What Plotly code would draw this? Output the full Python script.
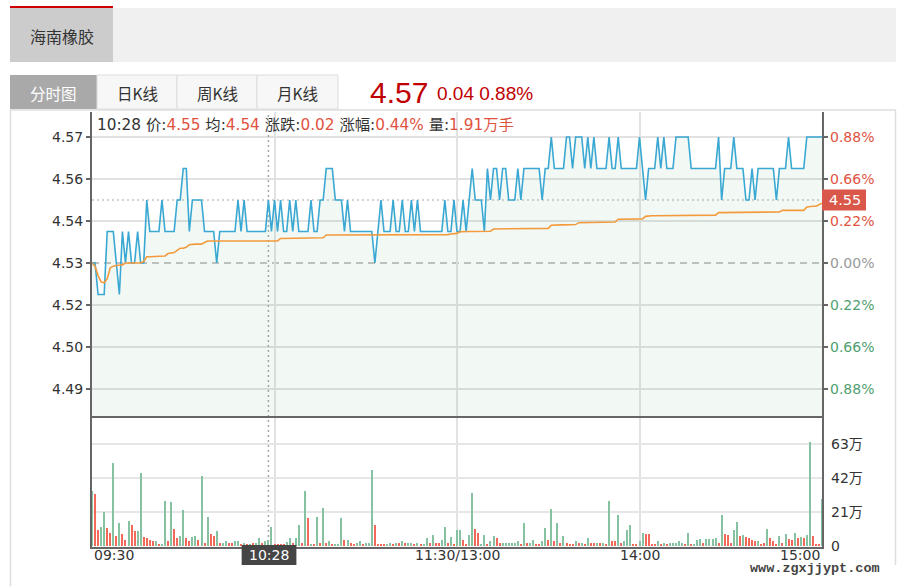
import plotly.graph_objects as go

W, H = 907, 586

# ---------------- data ----------------
minutes = list(range(241))  # 09:30 .. 15:00, lunch break collapsed

price = [
    4.53, 4.53, 4.52, 4.52, 4.52, 4.54, 4.54, 4.54, 4.53, 4.52,
    4.54, 4.53, 4.54, 4.53, 4.53, 4.54, 4.53, 4.53, 4.55, 4.54,
    4.54, 4.54, 4.54, 4.55, 4.54, 4.54, 4.54, 4.54, 4.55, 4.55,
    4.56, 4.56, 4.54, 4.55, 4.55, 4.55, 4.55, 4.54, 4.54, 4.54,
    4.54, 4.53, 4.54, 4.54, 4.54, 4.54, 4.54, 4.54, 4.55, 4.54,
    4.55, 4.54, 4.54, 4.54, 4.54, 4.54, 4.54, 4.54, 4.55, 4.54,
    4.55, 4.54, 4.55, 4.54, 4.54, 4.55, 4.54, 4.55, 4.54, 4.54,
    4.54, 4.54, 4.55, 4.54, 4.54, 4.55, 4.55, 4.56, 4.56, 4.56,
    4.55, 4.55, 4.55, 4.54, 4.55, 4.54, 4.54, 4.54, 4.54, 4.54,
    4.54, 4.54, 4.54, 4.53, 4.54, 4.55, 4.54, 4.54, 4.54, 4.55,
    4.54, 4.54, 4.55, 4.54, 4.54, 4.55, 4.54, 4.55, 4.54, 4.54,
    4.54, 4.54, 4.54, 4.54, 4.54, 4.54, 4.55, 4.54, 4.54, 4.55,
    4.54, 4.54, 4.55, 4.54, 4.55, 4.56, 4.55, 4.55, 4.55, 4.54,
    4.56, 4.55, 4.56, 4.56, 4.55, 4.56, 4.56, 4.55, 4.55, 4.55,
    4.56, 4.55, 4.56, 4.56, 4.56, 4.56, 4.56, 4.56, 4.55, 4.56,
    4.56, 4.57, 4.56, 4.56, 4.56, 4.56, 4.57, 4.57, 4.56, 4.57,
    4.57, 4.57, 4.56, 4.57, 4.56, 4.57, 4.56, 4.56, 4.56, 4.56,
    4.57, 4.56, 4.56, 4.57, 4.56, 4.56, 4.56, 4.56, 4.56, 4.56,
    4.57, 4.56, 4.55, 4.56, 4.56, 4.56, 4.57, 4.56, 4.57, 4.56,
    4.56, 4.56, 4.57, 4.57, 4.57, 4.57, 4.57, 4.56, 4.56, 4.56,
    4.56, 4.56, 4.56, 4.56, 4.56, 4.56, 4.57, 4.55, 4.56, 4.56,
    4.56, 4.57, 4.56, 4.56, 4.56, 4.55, 4.55, 4.56, 4.55, 4.56,
    4.56, 4.56, 4.56, 4.56, 4.56, 4.55, 4.56, 4.56, 4.56, 4.57,
    4.56, 4.56, 4.56, 4.56, 4.56, 4.57, 4.57, 4.57, 4.57, 4.57,
    4.57,
]

avg_price = [
    4.5300, 4.5290, 4.5260, 4.5240, 4.5237, 4.5250, 4.5285, 4.5290, 4.5292, 4.5293,
    4.5294, 4.5300, 4.5300, 4.5300, 4.5300, 4.5300, 4.5300, 4.5305, 4.5320, 4.5320,
    4.5320, 4.5320, 4.5320, 4.5320, 4.5322, 4.5330, 4.5331, 4.5333, 4.5340, 4.5347,
    4.5347, 4.5350, 4.5358, 4.5360, 4.5360, 4.5360, 4.5360, 4.5365, 4.5370, 4.5370,
    4.5370, 4.5370, 4.5370, 4.5370, 4.5370, 4.5370, 4.5370, 4.5370, 4.5370, 4.5370,
    4.5370, 4.5370, 4.5370, 4.5370, 4.5370, 4.5370, 4.5370, 4.5370, 4.5370, 4.5370,
    4.5370, 4.5370, 4.5378, 4.5378, 4.5378, 4.5378, 4.5378, 4.5378, 4.5378, 4.5378,
    4.5378, 4.5378, 4.5378, 4.5378, 4.5378, 4.5378, 4.5380, 4.5389, 4.5389, 4.5389,
    4.5389, 4.5389, 4.5389, 4.5389, 4.5389, 4.5389, 4.5389, 4.5389, 4.5389, 4.5389,
    4.5389, 4.5389, 4.5389, 4.5389, 4.5389, 4.5389, 4.5389, 4.5389, 4.5389, 4.5389,
    4.5389, 4.5389, 4.5389, 4.5389, 4.5389, 4.5389, 4.5389, 4.5389, 4.5389, 4.5389,
    4.5389, 4.5389, 4.5389, 4.5389, 4.5389, 4.5389, 4.5389, 4.5390, 4.5392, 4.5394,
    4.5394, 4.5399, 4.5400, 4.5400, 4.5400, 4.5400, 4.5400, 4.5400, 4.5400, 4.5400,
    4.5400, 4.5401, 4.5408, 4.5408, 4.5408, 4.5408, 4.5408, 4.5408, 4.5408, 4.5408,
    4.5408, 4.5408, 4.5408, 4.5408, 4.5408, 4.5408, 4.5408, 4.5408, 4.5408, 4.5408,
    4.5410, 4.5420, 4.5421, 4.5421, 4.5421, 4.5421, 4.5421, 4.5421, 4.5421, 4.5422,
    4.5428, 4.5428, 4.5428, 4.5428, 4.5428, 4.5428, 4.5428, 4.5428, 4.5428, 4.5428,
    4.5428, 4.5428, 4.5430, 4.5439, 4.5439, 4.5439, 4.5439, 4.5439, 4.5439, 4.5439,
    4.5439, 4.5440, 4.5448, 4.5450, 4.5450, 4.5450, 4.5450, 4.5450, 4.5450, 4.5450,
    4.5450, 4.5450, 4.5450, 4.5450, 4.5450, 4.5450, 4.5450, 4.5450, 4.5450, 4.5450,
    4.5450, 4.5450, 4.5450, 4.5450, 4.5450, 4.5452, 4.5460, 4.5460, 4.5460, 4.5460,
    4.5460, 4.5460, 4.5460, 4.5460, 4.5460, 4.5460, 4.5460, 4.5460, 4.5460, 4.5460,
    4.5460, 4.5460, 4.5460, 4.5460, 4.5460, 4.5460, 4.5462, 4.5467, 4.5467, 4.5467,
    4.5467, 4.5467, 4.5467, 4.5467, 4.5467, 4.5478, 4.5480, 4.5480, 4.5480, 4.5485,
    4.5490,
]

# volume in 万 (10k), direction g = down/flat, r = up
volume_wan = [
    34, 32, 10, 11.5, 21, 11, 8, 51, 6, 14,
    7.5, 4, 15.6, 13, 9, 9, 45, 5.6, 4.8, 3.8,
    3, 3, 1.5, 1.5, 28, 3, 27, 10.6, 5, 6,
    22, 5, 3, 5.6, 6, 3.8, 43, 2, 18, 7.3,
    6.3, 9, 2, 2, 3, 2, 2, 3, 3, 1,
    2, 1, 1.5, 2, 2, 5, 2, 3, 4, 11.5,
    1.2, 1.2, 1.2, 1.2, 2.5, 5, 2, 5, 13, 2,
    34, 17.5, 1.2, 1.2, 18, 2, 23.6, 2, 3, 1.2,
    1.2, 1.2, 17.5, 4, 4, 2, 1.2, 2, 3, 1.2,
    2, 2, 47, 13, 1, 1, 1, 1.2, 2, 1,
    2, 2, 3, 2, 2, 2, 1, 2, 1, 1.5,
    5, 2, 7, 2, 2, 4, 12, 2, 5.6, 1.5,
    10,
    10, 3.5, 1.5, 7, 33, 10.6, 8, 1.5, 7, 1.5,
    3, 6, 4.8, 2, 2, 2, 2, 2, 2, 3,
    1, 14, 2, 2, 3.5, 1, 1, 3, 11, 3.5,
    23, 3, 14, 2, 6, 2, 1, 1, 3, 2,
    2, 1, 5, 2, 2, 2, 2, 2, 1, 28,
    3, 3, 19, 2, 3, 10, 13, 1, 1, 3,
    8, 7.5, 7.5, 1.5, 1, 3, 1, 2, 1, 2,
    2, 2, 3, 2, 1, 8, 1, 1, 3.5, 4.5,
    2, 4.5, 4.5, 4.5, 5, 2, 19, 7.5, 6.5, 2,
    10, 14.6, 6, 7, 5.5, 5, 4, 3, 3, 1,
    2, 10.5, 5, 3, 1, 6, 2, 7.5, 4.5, 4,
    8, 5, 5.8, 5, 7, 64, 6, 1, 1, 29,
]

vol_dir = (
    "g,r,r,g,g,r,r,g,r,g,"
    "r,r,g,r,r,g,g,r,r,r,"
    "r,g,r,g,g,r,g,r,r,g,"
    "g,r,r,g,g,r,g,r,g,r,"
    "r,g,r,g,g,r,r,g,g,r,"
    "g,r,g,r,g,g,r,g,g,g,"
    "r,r,r,r,g,g,r,g,g,r,"
    "g,r,g,r,g,r,g,r,g,r,"
    "g,g,g,r,g,r,r,g,g,r,"
    "g,g,g,r,r,r,r,g,g,r,"
    "g,r,g,r,g,g,r,g,r,g,"
    "g,r,g,r,r,g,g,r,g,r,"
    "g,"
    "g,r,r,g,g,r,r,g,g,r,"
    "g,g,r,r,g,g,g,g,g,g,"
    "r,g,r,g,g,r,r,g,g,r,"
    "g,r,g,r,g,r,r,r,g,r,"
    "g,r,g,r,r,g,r,g,r,g,"
    "r,r,g,r,g,g,g,r,r,g,"
    "g,r,r,r,r,g,r,g,r,g,"
    "g,g,g,g,r,g,r,g,g,g,"
    "r,g,g,g,g,r,g,r,r,r,"
    "g,g,r,g,r,r,r,r,g,r,"
    "r,g,r,r,r,g,r,g,r,r,"
    "g,r,g,r,g,g,r,r,r,g"
).split(",")

prev_close = 4.53
price_tick_labels = ["4.57", "4.56", "4.54", "4.53", "4.52", "4.50", "4.49"]
pct_tick_labels = ["0.88%", "0.66%", "0.22%", "0.00%", "0.22%", "0.66%", "0.88%"]
tick_steps = [3, 2, 1, 0, -1, -2, -3]
vol_tick_vals = [0, 21, 42, 63]
vol_tick_labels = ["0", "21万", "42万", "63万"]
time_labels = ["09:30", "11:30/13:00", "14:00", "15:00"]
time_label_pos = [0, 120, 180, 240]
cross_minute = 58
cross_label = "10:28"
cross_price = 4.55
info = {"time": "10:28", "price": "4.55", "avg": "4.54", "chg": "0.02", "pct": "0.44%", "vol": "1.91万手"}
stock_name = "海南橡胶"
tabs = ["分时图", "日K线", "周K线", "月K线"]
last_price, last_chg, last_pct = "4.57", "0.04", "0.88%"
watermark = "www.zgxjjypt.com"

assert len(price) == 241 and len(avg_price) == 241 and len(volume_wan) == 241 and len(vol_dir) == 241

# ---------------- helpers ----------------
def PX(x):
    return x / W

def PY(y):
    return 1 - y / H

NUM = "DejaVu Sans, Noto Sans CJK SC"
CJK = "Noto Sans CJK SC"
ARIAL = "Liberation Sans, Arial"
RED = "#e0533f"
GREEN = "#4f9f72"

price_step = 0.04 / 3
price_tick_pos = [prev_close + k * price_step for k in tick_steps]
px_per_unit = 3150.0  # pixels per 1.0 price
p_top, p_bot = 112, 417
v_top, v_bot = 418, 547
x_left, x_right = 92, 822
price_range = [prev_close - (p_bot - 263) / px_per_unit, prev_close + (263 - p_top) / px_per_unit]
vol_px = (546 - 444) / 63.0
vol_range = [-(547 - 546) / vol_px, (546 - 418) / vol_px]

bar_colors = ["#f2695a" if d == "r" else "#86c1a1" for d in vol_dir]

fig = go.Figure()
fig.add_trace(go.Scatter(
    x=minutes, y=price, mode="lines", xaxis="x", yaxis="y",
    line=dict(color="#3aa8d2", width=1.6),
    fill="tozeroy", fillcolor="rgba(110,185,140,0.09)", hoverinfo="skip",
))
fig.add_trace(go.Scatter(
    x=minutes, y=avg_price, mode="lines", xaxis="x", yaxis="y",
    line=dict(color="#f39a3c", width=1.6), hoverinfo="skip",
))
fig.add_trace(go.Bar(
    x=minutes, y=volume_wan, xaxis="x2", yaxis="y2",
    marker=dict(color=bar_colors, line=dict(width=0)), width=0.66, hoverinfo="skip",
))

shapes = []
def rect(x0, y0, x1, y1, fill, line=None, layer="above"):
    shapes.append(dict(type="rect", xref="paper", yref="paper",
                       x0=PX(x0), x1=PX(x1), y0=PY(y1), y1=PY(y0),
                       fillcolor=fill, line=dict(width=1 if line else 0, color=line or fill),
                       layer=layer))

def pline(x0, y0, x1, y1, color, width=1, dash=None, layer="above"):
    d = dict(type="line", xref="paper", yref="paper", x0=PX(x0), x1=PX(x1), y0=PY(y0), y1=PY(y1),
             line=dict(color=color, width=width), layer=layer)
    if dash:
        d["line"]["dash"] = dash
    shapes.append(d)

# header
rect(10, 6, 113, 8, "#cc0000")
rect(10, 8, 113, 62, "#cccccc")
rect(113, 8, 896, 62, "#f0f0f0")
# tabs
rect(10, 75, 97, 109, "#a9a9a9")
rect(97, 75, 177, 109, "#f7f7f7", "#dddddd")
rect(177, 75, 257, 109, "#f7f7f7", "#dddddd")
rect(257, 75, 338, 109, "#f7f7f7", "#dddddd")
# container border
pline(10, 110, 896, 110, "#dddddd", 1.5)
pline(10.5, 110, 10.5, 586, "#dddddd", 1.5)
pline(895.5, 110, 895.5, 565, "#dddddd", 1.5)

# price grid lines
for k, pos in zip(tick_steps, price_tick_pos):
    if k == 0:
        continue
    shapes.append(dict(type="line", xref="paper", yref="y", x0=PX(x_left), x1=PX(x_right),
                       y0=pos, y1=pos, line=dict(color="#e1e1e1", width=2), layer="below"))
# previous close dashed line
shapes.append(dict(type="line", xref="paper", yref="y", x0=PX(x_left), x1=PX(x_right),
                   y0=prev_close, y1=prev_close, line=dict(color="#b0b0b0", width=1.5, dash="7px,5px"),
                   layer="below"))
# crosshair lines
shapes.append(dict(type="line", xref="paper", yref="y", x0=PX(x_left), x1=PX(x_right),
                   y0=cross_price, y1=cross_price, line=dict(color="#a8a8a8", width=1.2, dash="2px,3px"),
                   layer="below"))
shapes.append(dict(type="line", xref="x", yref="paper", x0=cross_minute, x1=cross_minute,
                   y0=PY(v_bot), y1=PY(p_top), line=dict(color="#a8a8a8", width=1.5, dash="2px,3px"),
                   layer="below"))
# crosshair price box on right
half = 10.5 / px_per_unit
shapes.append(dict(type="rect", xref="paper", yref="y", x0=PX(822), x1=PX(866),
                   y0=cross_price - half, y1=cross_price + half,
                   fillcolor="#d9584a", line=dict(width=0)))
# crosshair time box
shapes.append(dict(type="rect", xref="x2", yref="paper", x0=cross_minute - 8.8, x1=cross_minute + 9.2,
                   y0=PY(565), y1=PY(545), fillcolor="#454545", line=dict(width=0)))

ann = []
def text(x, y, s, size, color, family, xanchor="left", yanchor="middle", xref="paper", yref="paper"):
    ann.append(dict(x=x, y=y, xref=xref, yref=yref, text=s, showarrow=False,
                    xanchor=xanchor, yanchor=yanchor, font=dict(size=size, color=color, family=family)))

text(PX(62), PY(36), stock_name, 16, "#333333", CJK, "center")
tab_centers = [53, 137, 217, 297]
for t, cx in zip(tabs, tab_centers):
    text(PX(cx), PY(93), t, 15.5, "#ffffff" if t == tabs[0] else "#333333", CJK, "center")
text(PX(368), PY(92), last_price, 30, "#c00000", ARIAL, "left")
text(PX(435), PY(94), f"{last_chg} {last_pct}", 19, "#c00000", ARIAL, "left")

v = lambda s: f"<span style='color:{RED}'>{s}</span>"
info_txt = (f"{info['time']} 价:{v(info['price'])} 均:{v(info['avg'])} 涨跌:{v(info['chg'])} "
            f"涨幅:{v(info['pct'])} 量:{v(info['vol'])}")
text(PX(95), PY(125), info_txt, 15.3, "#333333", NUM, "left")

# right percentage labels
for k, pos, lab in zip(tick_steps, price_tick_pos, pct_tick_labels):
    col = RED if k > 0 else ("#999999" if k == 0 else GREEN)
    text(PX(828), pos, lab, 14, col, NUM, "left", yref="y")
text(PX(827), cross_price, f"{cross_price:.2f}", 14.5, "#ffffff", NUM, "left", yref="y")

# volume labels
for val, lab in zip(vol_tick_vals, vol_tick_labels):
    text(PX(829), val, lab, 14, "#333333", NUM, "left", yref="y2")

# time labels
anchors = ["left", "center", "center", "right"]
for pos, lab, a in zip(time_label_pos, time_labels, anchors):
    text(pos, PY(555), lab, 14, "#333333", NUM, a, xref="x2")
text(cross_minute + 0.2, PY(555), cross_label, 14, "#ffffff", NUM, "center", xref="x2")

text(PX(815), PY(568), watermark, 13.5, "#444444", "Liberation Mono, DejaVu Sans Mono", "center")
ann[-1]["font"]["weight"] = "bold"

xdom = [PX(x_left), PX(x_right)]
fig.update_layout(
    width=W, height=H, margin=dict(l=0, r=0, t=0, b=0),
    paper_bgcolor="white", plot_bgcolor="white", showlegend=False,
    shapes=shapes, annotations=ann, bargap=0,
    xaxis=dict(domain=xdom, range=[0, 240], anchor="y", tickvals=[60, 120, 180],
               showgrid=True, gridcolor="#e2e2e2", gridwidth=2, showticklabels=False,
               zeroline=False, showline=False, ticks=""),
    yaxis=dict(domain=[PY(p_bot), PY(p_top)], range=price_range, anchor="x",
               tickvals=price_tick_pos, ticktext=price_tick_labels, showgrid=False,
               ticks="outside", ticklen=4, tickcolor="#666666", tickwidth=1.5,
               showline=True, linecolor="#666666", linewidth=2, mirror="ticks",
               tickfont=dict(size=14, color="#333333", family=NUM), zeroline=False),
    xaxis2=dict(domain=xdom, range=[0, 240], anchor="y2", matches="x", tickvals=[60, 120, 180],
                showgrid=True, gridcolor="#e2e2e2", gridwidth=2, showticklabels=False,
                zeroline=False, showline=True, linecolor="#666666", linewidth=2, mirror=True, ticks=""),
    yaxis2=dict(domain=[PY(v_bot), PY(v_top)], range=vol_range, anchor="x2",
                tickvals=vol_tick_vals[1:], showgrid=True, gridcolor="#e6e6e6", gridwidth=2,
                showticklabels=False, ticks="", showline=True, linecolor="#666666", linewidth=2,
                mirror=True, zeroline=False),
)

fig.write_html("out.html", config={"displayModeBar": False, "staticPlot": True},
               post_script="document.body.style.margin='0';document.body.style.overflow='hidden';")
